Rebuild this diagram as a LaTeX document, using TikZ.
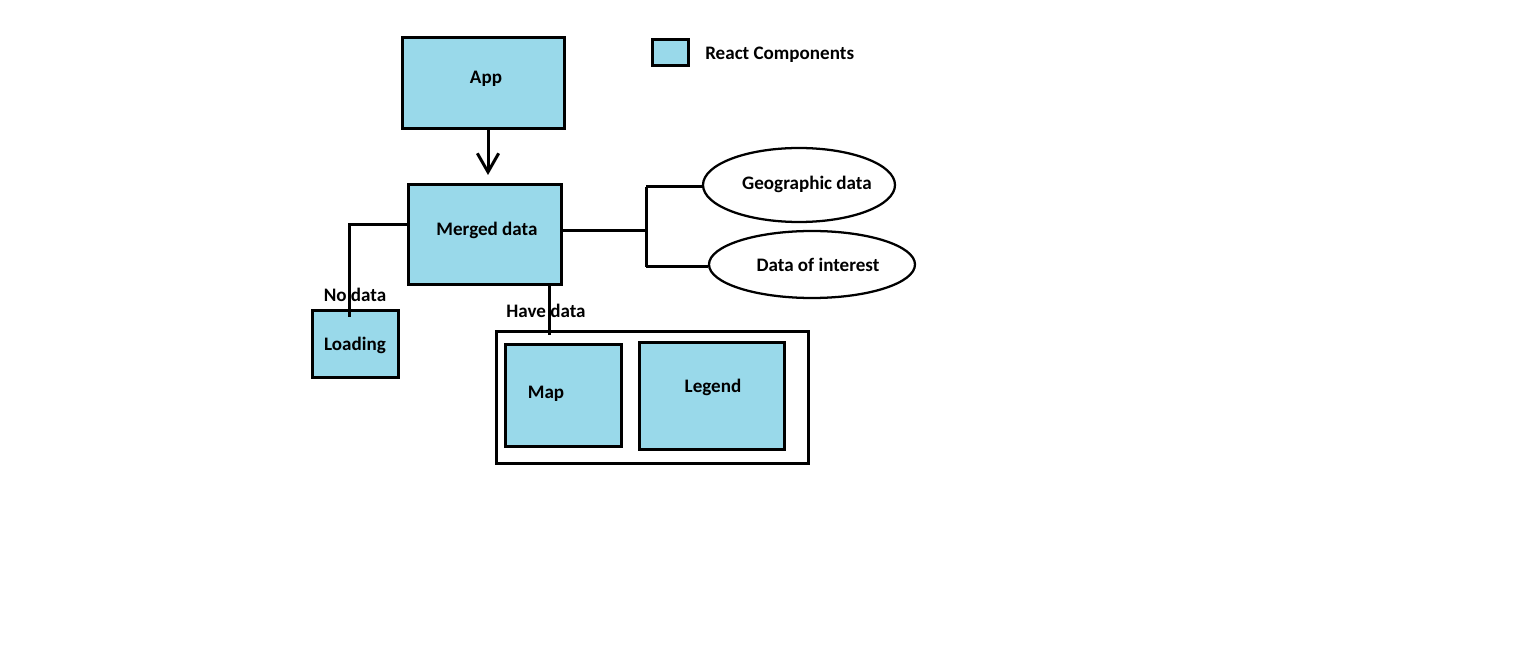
\documentclass[tikz,border=0pt]{standalone}
\usepackage{fontspec}
\setmainfont{Carlito}
\usetikzlibrary{shapes.geometric,arrows.meta}
\definecolor{boxblue}{RGB}{153,217,234}
\tikzset{
  comp/.style={draw=black,fill=boxblue,line width=2.25pt,inner sep=0pt},
  plainbox/.style={draw=black,fill=none,line width=2.25pt,inner sep=0pt},
  dataell/.style={ellipse,draw=black,line width=1.7pt,inner sep=0pt},
  lbl/.style={font=\bfseries\fontsize{14.3}{16}\selectfont,inner sep=0pt,yshift=-1.5pt},
  conn/.style={line width=2.25pt},
}
\begin{document}
\begin{tikzpicture}[x=0.75pt,y=-0.75pt]
\useasboundingbox (0,0) rectangle (1536,648);
% boxes
\node[comp,minimum width=162*0.75pt,minimum height=91*0.75pt] (app) at (483,83.5) {};
\node[comp,minimum width=153*0.75pt,minimum height=100*0.75pt] (merged) at (484.5,235) {};
\node[comp,minimum width=86*0.75pt,minimum height=67*0.75pt] (loading) at (355,344.5) {};
\node[plainbox,minimum width=312*0.75pt,minimum height=132*0.75pt] (outer) at (652,398) {};
\node[comp,minimum width=116*0.75pt,minimum height=102*0.75pt] (map) at (563,396) {};
\node[comp,minimum width=145*0.75pt,minimum height=107*0.75pt] (legendbox) at (711.5,396.5) {};
\node[comp,minimum width=36*0.75pt,minimum height=26*0.75pt] (key) at (670,53) {};
\node[dataell,minimum width=192*0.75pt,minimum height=74*0.75pt] (geo) at (799,185) {};
\node[dataell,minimum width=206*0.75pt,minimum height=67*0.75pt] (doi) at (812,264.5) {};
% texts
\node[lbl] (tapp) at (486,77) {App};
\node[lbl] (tmerged) at (487,228) {Merged data};
\node[lbl] (tloading) at (355,343) {Loading};
\node[lbl] (tmap) at (546,392) {Map};
\node[lbl] (tlegend) at (713,385) {Legend};
\node[lbl] (tgeo) at (807,182) {Geographic data};
\node[lbl] (tdoi) at (818,263) {Data of interest};
\node[lbl,anchor=west] (tkey) at (705,53) {React Components};
\node[lbl] (tnodata) at (355,293) {No data};
\node[lbl] (thave) at (546,309) {Have data};
% connector points
\coordinate (tip) at (488,175);
\coordinate (nd1) at (349,225);
\coordinate (nd2) at (349,317);
\coordinate (hd) at (549,335);
\coordinate (mid) at (647,231);
\coordinate (b1) at (646,187);
\coordinate (b2) at (646,267);
% connectors
\draw[conn,-{Straight Barb[length=14pt,width=16pt,line width=2.25pt]}] (app.south -| tip) -- (tip);
\draw[conn] (merged.west |- nd1) -- (nd1) -- (nd2);
\draw[conn] (merged.south -| hd) -- (hd);
\draw[conn] (merged.east |- mid) -- (mid);
\draw[conn] (b1) -- (b2);
\draw[conn] (b1) -- (geo.west |- b1);
\draw[conn] (b2) -- (doi.west |- b2);
\end{tikzpicture}
\end{document}
